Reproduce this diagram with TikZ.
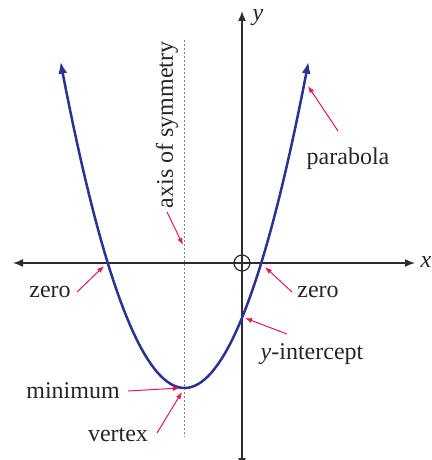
\documentclass[tikz,border=0pt]{standalone}
\usepackage{fontspec}
\setmainfont{Liberation Serif}
\usetikzlibrary{arrows.meta}

\definecolor{curveblue}{RGB}{43,50,145}
\definecolor{notered}{RGB}{232,23,93}
\definecolor{axisgray}{RGB}{45,45,45}

\begin{document}
\begin{tikzpicture}[
    x=0.5pt, y=-0.5pt,
    every node/.style={font=\fontsize{12}{14}\selectfont, text=black!85},
    axisline/.style={{Latex[length=5pt, width=4pt]}-{Latex[length=5pt, width=4pt]}, line width=0.75pt, draw=axisgray},
    curve/.style={{Latex[length=6pt, width=4.5pt]}-{Latex[length=6pt, width=4.5pt]}, line width=1.25pt, draw=curveblue},
    note/.style={-{Latex[length=3.5pt, width=2.6pt]}, line width=0.5pt, draw=notered},
    symline/.style={draw=gray, line width=0.6pt, dash pattern=on 0.9pt off 1.1pt}
]
\useasboundingbox (0,0) rectangle (432,460);

% axes
\coordinate (o) at (242,263);
\coordinate (xl) at (13,263);
\coordinate (xr) at (415,263);
\coordinate (yt) at (242,11);
\coordinate (yb) at (242,468);
\draw[axisline] (xl) -- (xr);
\draw[axisline] (yb) -- (yt);
\draw[axisgray, line width=0.6pt] (o) circle (8);
\node (xlab) at (426,262) {\textit{x}};
\node (ylab) at (258,18) {\textit{y}};

% axis of symmetry
\coordinate (st) at (184.5,40);
\coordinate (sb) at (184.5,437);
\draw[symline] (st) -- (sb);
\node[rotate=90] (sym) at (167,125) {axis of symmetry};

% parabola
\draw[curve] plot[domain=-124:124, samples=80] ({184.5+\x},{388-0.02123*\x*\x});

% labels
\node (zl) at (50,292) {zero};
\node (zr) at (318,292) {zero};
\node (yint) at (312,354) {\textit{y}-intercept};
\node (mini) at (73,391) {minimum};
\node (vert) at (118,435) {vertex};
\node (para) at (348,159) {parabola};

% pointers
\coordinate (sym-a) at (167,212);   \coordinate (sym-b) at (183,245);
\coordinate (zl-a) at (77,292);     \coordinate (zl-b) at (104,266);
\coordinate (zr-a) at (292,292);    \coordinate (zr-b) at (265,267);
\coordinate (yint-a) at (287,334);  \coordinate (yint-b) at (245,318);
\coordinate (mini-a) at (128,391);  \coordinate (mini-b) at (180,388);
\coordinate (vert-a) at (157,433);  \coordinate (vert-b) at (182,392);
\coordinate (para-a) at (338,131);  \coordinate (para-b) at (308,86);
\draw[note] (sym-a) -- (sym-b);
\draw[note] (zl-a) -- (zl-b);
\draw[note] (zr-a) -- (zr-b);
\draw[note] (yint-a) -- (yint-b);
\draw[note] (mini-a) -- (mini-b);
\draw[note] (vert-a) -- (vert-b);
\draw[note] (para-a) -- (para-b);
\end{tikzpicture}
\end{document}
